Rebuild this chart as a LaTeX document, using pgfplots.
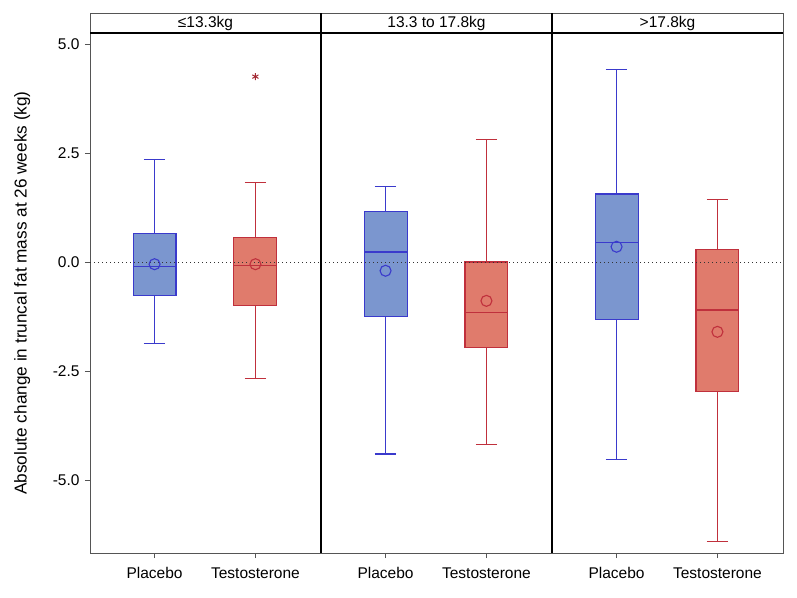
\documentclass[border=0pt]{standalone}
\usepackage{pgfplots}
\pgfplotsset{compat=1.18}
\usepgfplotslibrary{statistics}
\usepackage{fontspec}
\setmainfont{Liberation Sans}
\definecolor{bfill}{HTML}{7B96CF}
\definecolor{bedge}{HTML}{3A3ACC}
\definecolor{rfill}{HTML}{E07B6C}
\definecolor{redge}{HTML}{C0303C}
\definecolor{frame}{HTML}{555555}
\pgfplotsset{
  panel/.style={
    scale only axis, width=231pt, height=520pt,
    anchor=south west,
    xmin=0.36, xmax=2.65, ymin=-6.66, ymax=5.26,
    xtick={1,2}, xticklabels={Placebo,Testosterone},
    tick align=outside, xtick pos=bottom, ytick pos=left,
    major tick length=5pt,
    axis line style={draw=frame, line width=0.9pt},
    tick style={draw=frame, line width=0.9pt},
    ticklabel style={font=\fontsize{15.5}{17}\selectfont},
    /pgf/number format/assume math mode=true,
    xticklabel style={yshift=-6pt},
    yticklabel style={xshift=-2pt},
    clip=false,
    boxplot/draw direction=y,
  },
  pbox/.style={draw=bedge, fill=bfill, solid, line width=1.1pt},
  tbox/.style={draw=redge, fill=rfill, solid, line width=1.1pt},
  bp/.style n args={6}{boxplot prepared={draw position=#1, lower whisker=#2, lower quartile=#3, median=#4, upper quartile=#5, upper whisker=#6, box extend=0.426, whisker extend=0.21}},
  pmean/.style={only marks, mark=o, mark size=5.5pt, bedge, line width=1.1pt},
  tmean/.style={only marks, mark=o, mark size=5.5pt, redge, line width=1.1pt},
  zline/.style={black!80, line width=0.9pt, dash pattern=on 1pt off 3pt},
}
\begin{document}
\begin{tikzpicture}
\path[use as bounding box] (0,0) rectangle (797pt,597pt);
% Panel 1
\begin{axis}[panel, name=p1, at={(90pt,44pt)},
  ytick={-5,-2.5,0,2.5,5},
  yticklabel style={/pgf/number format/.cd, fixed, fixed zerofill, precision=1},
  ylabel={Absolute change in truncal fat mass at 26 weeks (kg)},
  every axis y label/.style={at={(rel axis cs:-0.294,0.5)}, rotate=90, anchor=center, font=\fontsize{17.2}{19}\selectfont}]
\addplot[pbox, bp={1}{-1.86}{-0.75}{-0.09}{0.66}{2.35}] coordinates {};
\addplot[tbox, bp={2}{-2.65}{-0.98}{-0.06}{0.58}{1.83}] coordinates {};
\addplot[pmean] coordinates {(1,-0.04)};
\addplot[tmean] coordinates {(2,-0.04)};
\addplot[only marks, mark=asterisk, mark size=3.5pt, color=redge!85!black, line width=1pt] coordinates {(2,4.26)};
\addplot[zline] coordinates {(0.36,0) (2.65,0)};
\end{axis}
% Panel 2
\begin{axis}[panel, name=p2, at={(321pt,44pt)}, ytick=\empty]
\addplot[pbox, bp={1}{-4.39}{-1.23}{0.24}{1.17}{1.75}] coordinates {};
\addplot[tbox, bp={2}{-4.18}{-1.95}{-1.15}{0.01}{2.81}] coordinates {};
\addplot[pmean] coordinates {(1,-0.19)};
\addplot[tmean] coordinates {(2,-0.88)};
\addplot[zline] coordinates {(0.36,0) (2.65,0)};
\end{axis}
% Panel 3
\begin{axis}[panel, name=p3, at={(552pt,44pt)}, ytick=\empty]
\addplot[pbox, bp={1}{-4.52}{-1.30}{0.46}{1.57}{4.43}] coordinates {};
\addplot[tbox, bp={2}{-6.39}{-2.95}{-1.09}{0.29}{1.44}] coordinates {};
\addplot[pmean] coordinates {(1,0.36)};
\addplot[tmean] coordinates {(2,-1.59)};
\addplot[zline] coordinates {(0.36,0) (2.65,0)};
\end{axis}
% strips
\foreach \p/\t in {p1/{≤13.3kg}, p2/{13.3 to 17.8kg}, p3/{>17.8kg}}{
  \draw[frame, line width=0.9pt, fill=white] (\p.north west) rectangle ([yshift=20pt]\p.north east);
  \node[font=\fontsize{15.5}{17}\selectfont, inner sep=0pt] at ([yshift=10pt]\p.north) {\t};
}
\draw[black, line width=1.8pt] (p1.north west) -- (p3.north east);
\draw[black, line width=1.8pt] ([yshift=20pt]p1.north east) -- (p1.south east);
\draw[black, line width=1.8pt] ([yshift=20pt]p2.north east) -- (p2.south east);
\end{tikzpicture}
\end{document}
